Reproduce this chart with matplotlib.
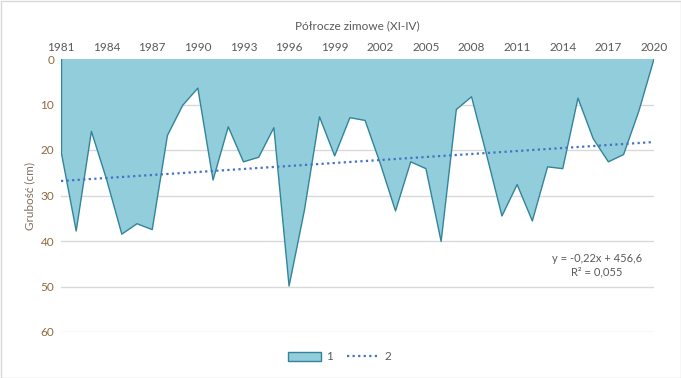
import numpy as np
import matplotlib
matplotlib.use("Agg")
import matplotlib.pyplot as plt
from matplotlib.patches import Patch
from matplotlib.lines import Line2D

years = list(range(1981, 2021))
thickness = [20.2, 37.8, 15.9, 26.5, 38.5, 36.2, 37.5, 16.8, 10.2, 6.4,
             26.6, 14.9, 22.6, 21.6, 15.1, 49.9, 33.4, 12.7, 21.3, 12.9,
             13.5, 23.0, 33.4, 22.6, 24.1, 40.1, 11.1, 8.3, 21.2, 34.5,
             27.6, 35.6, 23.7, 24.1, 8.6, 17.5, 22.6, 21.0, 11.5, 0.0]
year_ticks = list(range(1981, 2021, 3))
y_ticks = [0, 10, 20, 30, 40, 50, 60]
title = "Półrocze zimowe (XI-IV)"
ylabel = "Grubość (cm)"
eq_text = "y = -0,22x + 456,6\nR² = 0,055"
legend_labels = ["1", "2"]

plt.rcParams['font.family'] = ['Lato', 'DejaVu Sans']

fig = plt.figure(figsize=(6.81, 3.78), dpi=100)
ax = fig.add_axes([61/681, 1-332/378, (654-61)/681, (332-59)/378])

x = np.array(years)
y = np.array(thickness)
fill_c = '#92CDDC'
edge_c = '#31849B'
ax.fill_between(x, 0, y, facecolor=fill_c, edgecolor='none', zorder=2)
ax.plot(x, y, color=edge_c, lw=1.0, zorder=3)
ax.plot([x[0], x[0]], [0, y[0]], color=edge_c, lw=1.0, zorder=3)

coef = np.polyfit(x, y, 1)
trend = np.polyval(coef, x)
ax.plot(x, trend, color='#4472C4', lw=1.6, ls=(0, (1, 1.5)), zorder=4)

ax.set_xlim(1981, 2020)
ax.set_ylim(60, 0)
ax.xaxis.tick_top()
ax.set_xticks(year_ticks)
ax.set_xticklabels([str(v) for v in year_ticks], color='#595959', fontsize=8.5)
ax.set_yticks(y_ticks)
ax.set_yticklabels([str(v) for v in y_ticks], color='#8C6A3F', fontsize=8.5)
ax.tick_params(length=0, pad=5)
ax.tick_params(axis='x', pad=4)
ax.grid(axis='y', color='#D9D9D9', lw=1.0, zorder=0)
for s in ax.spines.values():
    s.set_visible(False)
ax.set_axisbelow(True)

fig.text((61+654)/2/681, 1-26/378, title, ha='center', va='center', color='#595959', fontsize=8.5)
fig.text(30/681, 1-196/378, ylabel, ha='center', va='center', rotation=90, color='#7F7060', fontsize=8.5)
fig.text(597/681, 1-265/378, eq_text, ha='center', va='center', color='#595959', fontsize=8, linespacing=1.3)

handles = [Patch(facecolor=fill_c, edgecolor=edge_c, lw=1.0),
           Line2D([0], [0], color='#4472C4', lw=1.6, ls=(0, (1, 1.5)))]
fig.legend(handles, legend_labels, loc='center', bbox_to_anchor=(340/681, 1-357/378),
           ncol=2, frameon=False, fontsize=8.5, handlelength=2.8, handleheight=0.8,
           columnspacing=1.2, handletextpad=0.4, labelcolor='#595959')

border = plt.Rectangle((0.5/681, 0.5/378), 1-1/681, 1-1/378, transform=fig.transFigure,
                       fill=False, edgecolor='#D9D9D9', lw=1)
fig.add_artist(border)

fig.savefig('out.png', dpi=100)
